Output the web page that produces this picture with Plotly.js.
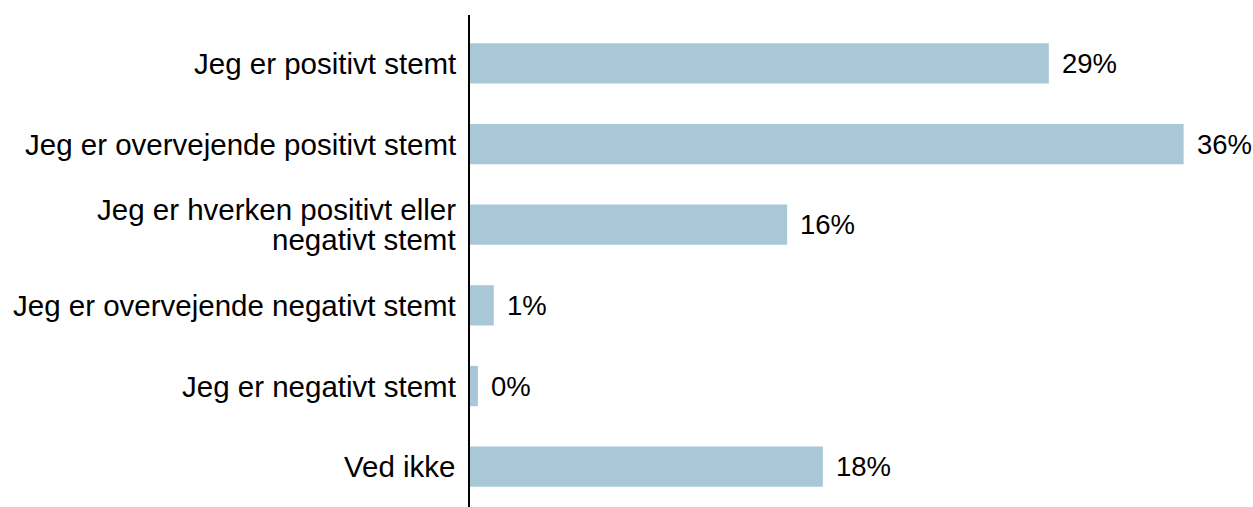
<!DOCTYPE html>
<html>
<head>
<meta charset="utf-8">
<script src="https://cdn.plot.ly/plotly-3.0.1.min.js"></script>
<style>html,body{margin:0;padding:0;background:#fff;}#chart{width:1253px;height:507px;}</style>
</head>
<body>
<div id="chart"></div>
<script>
const categories = [
  "Jeg er positivt stemt",
  "Jeg er overvejende positivt stemt",
  "Jeg er hverken positivt eller<br>negativt stemt",
  "Jeg er overvejende negativt stemt",
  "Jeg er negativt stemt",
  "Ved ikke"
];
const values = [29.2, 36.0, 16.0, 1.2, 0.4, 17.8];
const valueLabels = ["29%", "36%", "16%", "1%", "0%", "18%"];

const fam = "Liberation Sans, Arial, sans-serif";
const catFont = {family: fam, size: 29.5, color: "#000"};
const valFont = {family: fam, size: 27.5, color: "#000"};
const lineStep = 30;

const trace = {
  type: "bar",
  orientation: "h",
  x: values,
  y: categories,
  marker: {color: "#a8c8d8"},
  hoverinfo: "none"
};

const annotations = values.map((v, i) => ({
  x: v, y: categories[i], xref: "x", yref: "y",
  text: valueLabels[i], showarrow: false,
  xanchor: "left", yanchor: "middle", xshift: 11,
  font: valFont
}));

categories.forEach((c) => {
  const lines = c.split("<br>");
  lines.forEach((ln, j) => {
    annotations.push({
      x: 0, xref: "paper", y: c, yref: "y",
      text: ln, showarrow: false,
      xanchor: "right", yanchor: "middle",
      xshift: -12, yshift: -(j - (lines.length - 1) / 2) * lineStep,
      font: catFont
    });
  });
});

const layout = {
  width: 1253, height: 507,
  margin: {l: 470, r: 0, t: 15, b: 0, pad: 0},
  paper_bgcolor: "#fff", plot_bgcolor: "#fff",
  showlegend: false,
  bargap: 0.5,
  xaxis: {range: [0, 39.5], showgrid: false, zeroline: false, showticklabels: false, showline: false, ticks: ""},
  yaxis: {
    type: "category",
    range: [5.5, -0.6],
    showgrid: false, zeroline: false,
    showline: true, linecolor: "#000", linewidth: 2,
    ticks: "", showticklabels: false
  },
  annotations: annotations
};

Plotly.newPlot("chart", [trace], layout, {staticPlot: true, displayModeBar: false});
</script>
</body>
</html>
